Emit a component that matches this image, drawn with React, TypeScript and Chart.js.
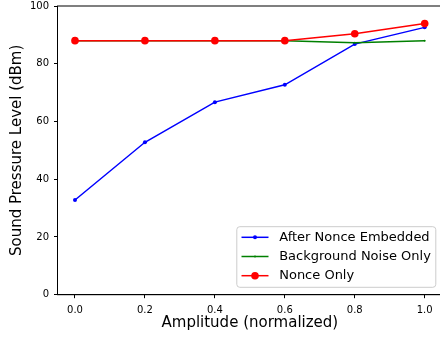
import React, { useEffect, useRef } from "react";
import { Chart, registerables } from "chart.js";

Chart.register(...registerables);

const amplitude = [0.0, 0.2, 0.4, 0.6, 0.8, 1.0];
const afterNonceEmbedded = [32.8, 52.8, 66.7, 72.7, 86.8, 92.6];
const backgroundNoiseOnly = [88.0, 88.0, 88.0, 88.0, 87.3, 88.0];
const nonceOnly = [88.0, 88.0, 88.0, 88.0, 90.4, 93.9];
const seriesLabels = ["After Nonce Embedded", "Background Noise Only", "Nonce Only"];
const xTickValues = [0.0, 0.2, 0.4, 0.6, 0.8, 1.0];
const yTickValues = [0, 20, 40, 60, 80, 100];

const FONT = "'DejaVu Sans', sans-serif";

const framePlugin = {
  id: "frame",
  afterDatasetsDraw(chart: any) {
    const { ctx, chartArea: a } = chart;
    ctx.save();
    ctx.strokeStyle = "#000";
    ctx.lineWidth = 1;
    ctx.strokeRect(a.left, a.top, a.right - a.left, a.bottom - a.top);
    ctx.restore();
  },
};

const legendPlugin = {
  id: "innerLegend",
  afterDraw(chart: any) {
    const { ctx, chartArea: a } = chart;
    const w = 199;
    const h = 60.6;
    const x0 = a.right - 6.4 - w;
    const y0 = a.bottom - 7.4 - h;
    ctx.save();
    ctx.beginPath();
    const r = 3;
    ctx.moveTo(x0 + r, y0);
    ctx.lineTo(x0 + w - r, y0);
    ctx.quadraticCurveTo(x0 + w, y0, x0 + w, y0 + r);
    ctx.lineTo(x0 + w, y0 + h - r);
    ctx.quadraticCurveTo(x0 + w, y0 + h, x0 + w - r, y0 + h);
    ctx.lineTo(x0 + r, y0 + h);
    ctx.quadraticCurveTo(x0, y0 + h, x0, y0 + h - r);
    ctx.lineTo(x0, y0 + r);
    ctx.quadraticCurveTo(x0, y0, x0 + r, y0);
    ctx.closePath();
    ctx.fillStyle = "rgba(255,255,255,0.8)";
    ctx.fill();
    ctx.strokeStyle = "#cccccc";
    ctx.lineWidth = 1;
    ctx.stroke();
    chart.data.datasets.forEach((ds: any, i: number) => {
      const cy = y0 + 10.6 + i * 19.2;
      ctx.strokeStyle = ds.borderColor;
      ctx.lineWidth = ds.borderWidth;
      ctx.beginPath();
      ctx.moveTo(x0 + 4.7, cy);
      ctx.lineTo(x0 + 31.7, cy);
      ctx.stroke();
      ctx.fillStyle = ds.backgroundColor;
      ctx.beginPath();
      ctx.arc(x0 + 18.2, cy, ds.pointRadius, 0, Math.PI * 2);
      ctx.fill();
      ctx.fillStyle = "#000";
      ctx.font = `13px ${FONT}`;
      ctx.textAlign = "left";
      ctx.textBaseline = "middle";
      ctx.fillText(ds.label, x0 + 42.4, cy);
    });
    ctx.restore();
  },
};

export default function App() {
  const ref = useRef<HTMLCanvasElement>(null);

  useEffect(() => {
    if (!ref.current) return;
    const mk = (vals: number[]) => amplitude.map((x, i) => ({ x, y: vals[i] }));
    const chart = new Chart(ref.current, {
      type: "line",
      data: {
        datasets: [
          {
            label: seriesLabels[0],
            data: mk(afterNonceEmbedded),
            borderColor: "#0000ff",
            backgroundColor: "#0000ff",
            borderWidth: 1.5,
            pointRadius: 2,
            pointBorderWidth: 0,
            pointHoverRadius: 2,
            order: 2,
          },
          {
            label: seriesLabels[1],
            data: mk(backgroundNoiseOnly),
            borderColor: "#008000",
            backgroundColor: "#008000",
            borderWidth: 1.5,
            pointRadius: 1,
            pointBorderWidth: 0,
            pointHoverRadius: 1,
            order: 1,
          },
          {
            label: seriesLabels[2],
            data: mk(nonceOnly),
            borderColor: "#ff0000",
            backgroundColor: "#ff0000",
            borderWidth: 1.5,
            pointRadius: 3.8,
            pointBorderWidth: 0,
            pointHoverRadius: 3.8,
            order: 0,
          },
        ],
      },
      options: {
        animation: false,
        responsive: false,
        devicePixelRatio: 1,
        layout: { padding: { top: 6, right: 1.3, left: 0, bottom: 0 } },
        plugins: { legend: { display: false }, tooltip: { enabled: false } },
        scales: {
          x: {
            type: "linear",
            min: -0.05,
            max: 1.05,
            afterBuildTicks: (s: any) => {
              s.ticks = xTickValues.map((v) => ({ value: v }));
            },
            afterFit: (s: any) => {
              s.height = 43.3;
              s.paddingLeft = 0;
              s.paddingRight = 0;
            },
            ticks: {
              callback: (v: any) => Number(v).toFixed(1),
              font: { family: FONT, size: 10 },
              color: "#000",
              padding: 6,
              maxRotation: 0,
              autoSkip: false,
            },
            grid: { drawOnChartArea: false, tickLength: 3.5, color: "#000", tickWidth: 1 },
            border: { color: "#000", width: 1 },
            title: {
              display: true,
              text: "Amplitude (normalized)",
              font: { family: FONT, size: 15 },
              color: "#000",
              padding: { top: 0, bottom: 6 },
            },
          },
          y: {
            type: "linear",
            min: 0,
            max: 100,
            afterBuildTicks: (s: any) => {
              s.ticks = yTickValues.map((v) => ({ value: v }));
            },
            afterFit: (s: any) => {
              s.width = 57.5;
              s.paddingTop = 0;
              s.paddingBottom = 0;
            },
            ticks: {
              callback: (v: any) => String(v),
              font: { family: FONT, size: 10 },
              color: "#000",
              padding: 5,
            },
            grid: { drawOnChartArea: false, tickLength: 3.5, color: "#000", tickWidth: 1 },
            border: { color: "#000", width: 1 },
            title: {
              display: true,
              text: "Sound Pressure Level (dBm)",
              font: { family: FONT, size: 15 },
              color: "#000",
              padding: { top: 8, bottom: 0 },
            },
          },
        },
      },
      plugins: [framePlugin, legendPlugin],
    } as any);
    return () => chart.destroy();
  }, []);

  return (
    <div
      style={{
        position: "fixed",
        left: 0,
        top: 0,
        width: 440,
        height: 338,
        overflow: "hidden",
        background: "#fff",
      }}
    >
      <canvas ref={ref} width={446} height={338} style={{ display: "block" }} />
    </div>
  );
}
